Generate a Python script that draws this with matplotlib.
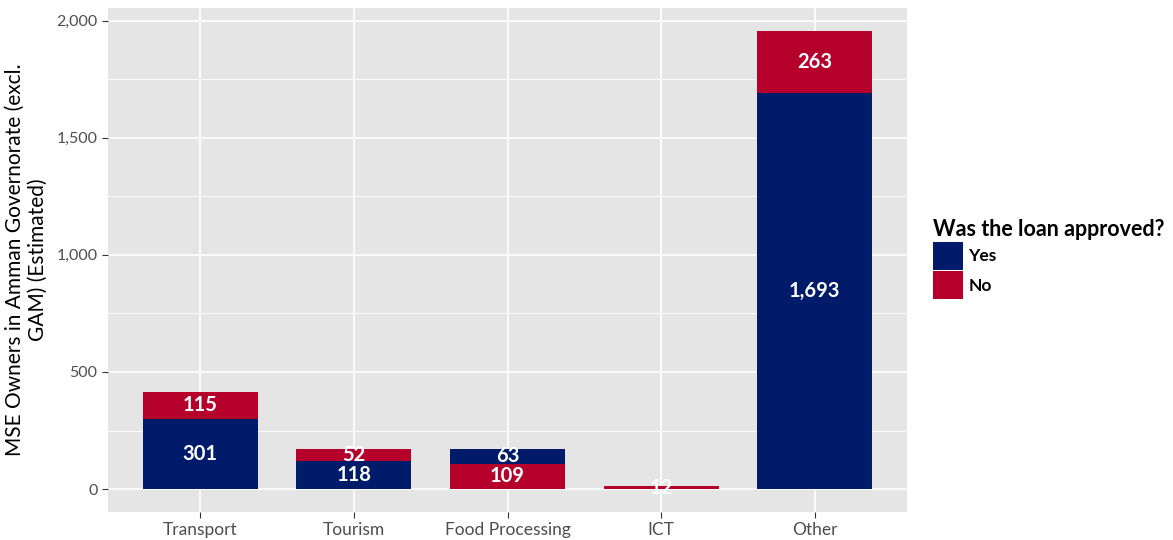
import numpy as np
import matplotlib
matplotlib.use('Agg')
import matplotlib.pyplot as plt
from matplotlib.patches import Patch
from matplotlib.ticker import FuncFormatter, MultipleLocator

# Data
categories = ['Transport', 'Tourism', 'Food Processing', 'ICT', 'Other']
yes_values = [301, 118, 63, 0, 1693]
no_values = [115, 52, 109, 12, 263]
# which group sits at the bottom of each stack (as in the source chart)
bottom_group = ['Yes', 'Yes', 'No', 'Yes', 'Yes']

# Styling
YES_COLOR = '#001B69'
NO_COLOR = '#B5002B'
PANEL_BG = '#E5E5E5'
TEXT_COLOR = '#4D4D4D'
plt.rcParams['font.family'] = ['Lato', 'DejaVu Sans']

fig = plt.figure(figsize=(11.73, 5.4), dpi=100)
ax = fig.add_axes([108 / 1173, 28 / 540, (907 - 108) / 1173, (532 - 28) / 540])
ax.set_facecolor(PANEL_BG)

x = np.arange(1, len(categories) + 1)
bar_width = 0.75

for i, cat in enumerate(categories):
    vals = {'Yes': yes_values[i], 'No': no_values[i]}
    cols = {'Yes': YES_COLOR, 'No': NO_COLOR}
    order = [bottom_group[i], 'No' if bottom_group[i] == 'Yes' else 'Yes']
    base = 0
    for grp in order:
        v = vals[grp]
        if v > 0:
            ax.bar(x[i], v, bottom=base, width=bar_width, color=cols[grp], zorder=3)
            ax.text(x[i], base + v / 2, f'{v:,}', ha='center', va='center',
                    color='white', fontsize=14.5, fontweight='bold', zorder=4)
        base += v

ymax = max(y + n for y, n in zip(yes_values, no_values))
ax.set_ylim(-0.05 * ymax, ymax * 1.05)
ax.set_xlim(0.4, len(categories) + 0.6)

ax.set_xticks(x)
ax.set_xticklabels(categories)
ax.yaxis.set_major_locator(MultipleLocator(500))
ax.yaxis.set_minor_locator(MultipleLocator(250))
ax.yaxis.set_major_formatter(FuncFormatter(lambda v, p: f'{int(v):,}'))

ax.grid(which='major', color='white', linewidth=1.2, zorder=0)
ax.grid(which='minor', axis='y', color='white', linewidth=0.6, zorder=0)
ax.set_axisbelow(True)
for s in ax.spines.values():
    s.set_visible(False)
ax.tick_params(axis='both', which='major', colors='#333333', length=4,
               labelcolor=TEXT_COLOR)
ax.tick_params(axis='x', labelsize=12.5)
ax.tick_params(axis='y', labelsize=11.5)
ax.tick_params(axis='y', which='minor', length=0)

ax.set_ylabel('MSE Owners in Amman Governorate (excl.\nGAM) (Estimated)',
              fontsize=15, color='black', labelpad=6)

handles = [Patch(facecolor=YES_COLOR, label='Yes'),
           Patch(facecolor=NO_COLOR, label='No')]
leg = fig.legend(handles=handles, title='Was the loan approved?',
                 loc='upper left', bbox_to_anchor=(926 / 1173, 1 - 212 / 540),
                 frameon=False, fontsize=12.5, title_fontsize=15.5,
                 handlelength=1.75, handleheight=2.1, handletextpad=0.3,
                 labelspacing=0.1, borderaxespad=0)
leg._legend_box.align = 'left'
leg.get_title().set_fontweight('bold')
for t in leg.get_texts():
    t.set_fontweight('bold')

fig.savefig('out.png', dpi=100)
